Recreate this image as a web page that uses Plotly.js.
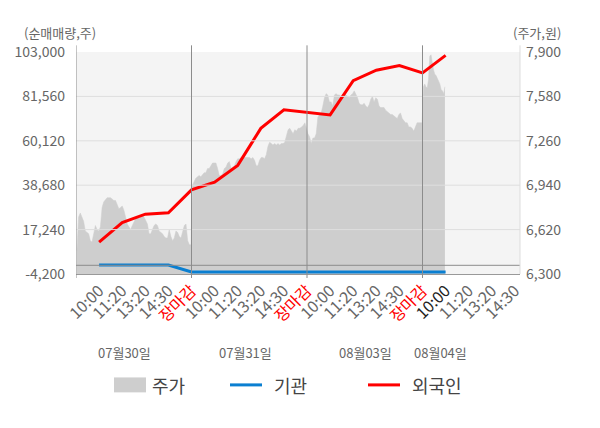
<!DOCTYPE html>
<html>
<head>
<meta charset="utf-8">
<script src="https://cdn.plot.ly/plotly-3.0.1.min.js"></script>
<style>
  html, body { margin: 0; padding: 0; background: #fff; }
  #chart { width: 600px; height: 428px; }
</style>
</head>
<body>
<div id="chart"></div>
<script>
// ---- 데이터 ----
const dayLabels = ['07월30일', '07월31일', '08월03일', '08월04일'];
const slotLabels = ['10:00', '11:20', '13:20', '14:30', '장마감'];

// 주가 (원) - 일자별
const price0730 = [6470, 6710, 6740, 6710, 6680, 6610, 6600, 6590, 6540, 6530, 6590, 6650, 6620, 6610, 6640,
  6780, 6820, 6840, 6850, 6850, 6850, 6840, 6830, 6830, 6800, 6770, 6780, 6790, 6760, 6710, 6660, 6640,
  6620, 6650, 6680, 6700, 6710, 6700, 6710, 6720, 6710, 6680, 6660, 6590, 6590, 6620, 6650, 6660, 6650,
  6610, 6600, 6590, 6570, 6560, 6560, 6620, 6570, 6540, 6560, 6610, 6600, 6570, 6560, 6610, 6650, 6660,
  6540, 6510, 6510];
const price0731 = [6940, 6970, 6990, 7000, 7010, 7000, 7020, 7030, 7030, 7060, 7060, 7080, 7100, 7100, 7100,
  7060, 7010, 7010, 7020, 7060, 7070, 7100, 7110, 7060, 7070, 7080, 7110, 7130, 7130, 7140, 7140, 7140,
  7140, 7140, 7140, 7130, 7140, 7120, 7080, 7080, 7120, 7140, 7140, 7130, 7160, 7220, 7250, 7240, 7230,
  7240, 7230, 7240, 7230, 7240, 7240, 7250, 7290, 7340, 7350, 7330, 7310, 7340, 7330, 7350, 7350, 7360,
  7370, 7390, 7340];
const price0803 = [7310, 7290, 7240, 7280, 7280, 7310, 7430, 7450, 7460, 7510, 7570, 7600, 7590, 7540, 7540,
  7510, 7590, 7600, 7590, 7590, 7580, 7590, 7600, 7590, 7580, 7570, 7590, 7600, 7620, 7600, 7570, 7530,
  7520, 7520, 7530, 7510, 7500, 7520, 7560, 7580, 7540, 7570, 7560, 7510, 7500, 7500, 7500, 7480, 7470,
  7460, 7450, 7450, 7440, 7430, 7420, 7450, 7460, 7420, 7400, 7390, 7390, 7360, 7360, 7350, 7330, 7360,
  7390, 7390, 7390, 7390];
const price0804 = [7650, 7670, 7650, 7640, 7700, 7870, 7880, 7820, 7770, 7740, 7730, 7710, 7690, 7670, 7630,
  7620, 7600, 7650];

// 순매매량 (주) - 10:00, 11:20, 13:20, 14:30, 장마감
const foreign = [11230, 20650, 24710, 25360, 36400,
  40140, 48260, 66120, 75050, 73750,
  72620, 89180, 94210, 96490, 92920,
  101360];
const institution = [100, 100, 100, 100, -3240,
  -3240, -3240, -3240, -3240, -3240,
  -3240, -3240, -3240, -3240, -3240,
  -3240];

const volumeTicks = [-4200, 17240, 38680, 60120, 81560, 103000];
const priceTicks = [6300, 6620, 6940, 7260, 7580, 7900];

// ---- 스타일 ----
const FONT = "'Noto Sans CJK KR', 'Noto Sans', sans-serif";
const GRAY_TXT = '#666666';
const AREA = '#cecece';
const BLUE = '#0a7fd1';
const RED = '#ff0000';
const SLOTS = slotLabels.length;
const X_END = 19.22;

const fmt = v => (v < 0 ? '-' : '') + Math.abs(v).toLocaleString('en-US');

// 주가 x좌표: 하루를 SLOTS 칸으로 보고 고르게 배치
const priceDays = [price0730, price0731, price0803, price0804];
const px = [], py = [];
priceDays.forEach((arr, d) => {
  const start = d * SLOTS + 0.04;
  const span = d === priceDays.length - 1 ? 0.93 : SLOTS - 0.06;
  arr.forEach((v, i) => {
    px.push(start + span * i / (arr.length - 1));
    py.push(v);
  });
});

const flowX = foreign.map((_, i) => i + 1);

const traces = [
  {
    x: px, y: py, type: 'scatter', mode: 'lines', name: '주가',
    fill: 'tozeroy', fillcolor: AREA, line: { color: AREA, width: 0.5 },
    xaxis: 'x', yaxis: 'y', hoverinfo: 'skip'
  },
  {
    x: flowX, y: institution, type: 'scatter', mode: 'lines', name: '기관',
    line: { color: BLUE, width: 3 }, xaxis: 'x', yaxis: 'y2'
  },
  {
    x: flowX, y: foreign, type: 'scatter', mode: 'lines', name: '외국인',
    line: { color: RED, width: 3 }, xaxis: 'x', yaxis: 'y2'
  }
];

// x축 눈금
const tickvals = [], ticktext = [];
const lastIdx = foreign.length - 1;
for (let v = 1; v <= Math.floor(X_END); v++) {
  const slot = (v - 1) % SLOTS;
  let t = slotLabels[slot];
  if (slot === SLOTS - 1) t = `<span style="color:${RED}">${t}</span>`;
  else if (v - 1 === lastIdx) t = `<span style="color:#222">${t}</span>`;
  tickvals.push(v);
  ticktext.push(t);
}

// 구분선 / 격자
const shapes = [];
volumeTicks.slice(1, -1).forEach(v => {
  shapes.push({
    type: 'line', xref: 'paper', yref: 'y2', x0: 0, x1: 1, y0: v, y1: v,
    line: { color: '#dedede', width: 1 }, layer: 'above'
  });
});
shapes.push({
  type: 'line', xref: 'paper', yref: 'y2', x0: 0, x1: 1, y0: 0, y1: 0,
  line: { color: '#8c8c8c', width: 1 }, layer: 'above'
});
dayLabels.forEach((_, d) => {
  shapes.push({
    type: 'line', xref: 'x', yref: 'paper', x0: d * SLOTS, x1: d * SLOTS, y0: -0.018, y1: 1.03,
    line: { color: '#8c8c8c', width: 1 }, layer: 'above'
  });
});
shapes.push({
  type: 'line', xref: 'paper', yref: 'paper', x0: 1, x1: 1, y0: 0, y1: 1.03,
  line: { color: '#dddddd', width: 1 }, layer: 'above'
});

// 날짜 라벨 (px 위치)
const datePx = [124.6, 245, 365.5, 440.5];
const L = 76, W = 444;
const annotations = dayLabels.map((t, i) => ({
  text: t, xref: 'paper', yref: 'paper', x: (datePx[i] - L) / W, y: -0.354,
  xanchor: 'center', yanchor: 'middle', showarrow: false,
  font: { family: FONT, size: 13, color: GRAY_TXT }
}));
annotations.push(
  { text: '(순매매량,주)', xref: 'paper', yref: 'paper', x: (22 - L) / W, y: (274.3 - 32) / 222.6,
    xanchor: 'left', yanchor: 'middle', showarrow: false, font: { family: FONT, size: 13, color: GRAY_TXT } },
  { text: '(주가,원)', xref: 'paper', yref: 'paper', x: (563 - L) / W, y: (274.3 - 32) / 222.6,
    xanchor: 'right', yanchor: 'middle', showarrow: false, font: { family: FONT, size: 13, color: GRAY_TXT } }
);

// 범례 (수동)
const legY = (274.3 - 385.5) / 222.6;
const legendItems = [
  { name: traces[0].name, kind: 'box', color: AREA, x0: 114, x1: 146, tx: 150 },
  { name: traces[1].name, kind: 'line', color: BLUE, x0: 230, x1: 262, tx: 272 },
  { name: traces[2].name, kind: 'line', color: RED, x0: 368, x1: 400, tx: 410 }
];
legendItems.forEach(it => {
  if (it.kind === 'box') {
    shapes.push({
      type: 'rect', xref: 'paper', yref: 'paper',
      x0: (it.x0 - L) / W, x1: (it.x1 - L) / W,
      y0: (274.3 - 393) / 222.6, y1: (274.3 - 378) / 222.6,
      fillcolor: it.color, line: { width: 0 }
    });
  } else {
    shapes.push({
      type: 'line', xref: 'paper', yref: 'paper',
      x0: (it.x0 - L) / W, x1: (it.x1 - L) / W, y0: legY, y1: legY,
      line: { color: it.color, width: 3 }
    });
  }
  annotations.push({
    text: it.name, xref: 'paper', yref: 'paper', x: (it.tx - L) / W, y: legY,
    xanchor: 'left', yanchor: 'middle', showarrow: false,
    font: { family: FONT, size: 18, color: '#444' }
  });
});

const layout = {
  width: 600, height: 428,
  margin: { l: 76, r: 80, t: 52, b: 154 },
  paper_bgcolor: '#ffffff',
  plot_bgcolor: '#f4f4f4',
  font: { family: FONT, color: GRAY_TXT, size: 14 },
  showlegend: false,
  xaxis: {
    range: [0, X_END], tickvals, ticktext, tickangle: -45,
    tickfont: { family: FONT, size: 16, color: GRAY_TXT },
    showgrid: false, zeroline: false, showline: true, linecolor: '#999', ticks: '',
    fixedrange: true
  },
  yaxis: {
    range: [priceTicks[0], priceTicks[priceTicks.length - 1]], side: 'right',
    tickvals: priceTicks, ticktext: priceTicks.map(fmt),
    tickfont: { family: FONT, size: 14, color: GRAY_TXT },
    showgrid: false, zeroline: false, showline: false, ticks: '', ticklabelstandoff: 5
  },
  yaxis2: {
    range: [volumeTicks[0], volumeTicks[volumeTicks.length - 1]], side: 'left', overlaying: 'y',
    tickvals: volumeTicks, ticktext: volumeTicks.map(fmt),
    tickfont: { family: FONT, size: 14, color: GRAY_TXT },
    showgrid: false, zeroline: false, showline: false, ticks: '', ticklabelstandoff: 10
  },
  shapes, annotations
};

Plotly.newPlot('chart', traces, layout, { displayModeBar: false, staticPlot: true });
</script>
</body>
</html>
